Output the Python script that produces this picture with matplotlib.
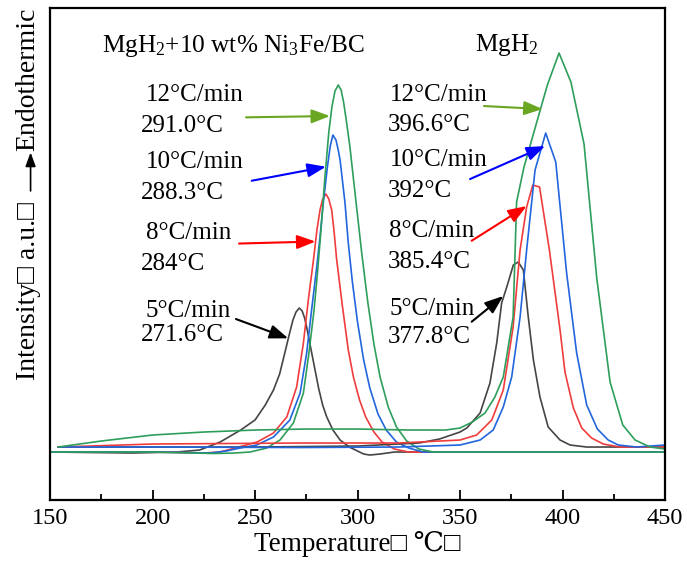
import matplotlib
matplotlib.use("Agg")
import matplotlib.pyplot as plt

plt.rcParams["font.family"] = ["Liberation Serif", "DejaVu Serif", "DejaVu Sans"]
plt.rcParams["mathtext.fontset"] = "custom"
plt.rcParams["mathtext.rm"] = "Liberation Serif"
plt.rcParams["mathtext.it"] = "Liberation Serif:italic"

# DSC curves, MgH2 + 10 wt% Ni3Fe/BC (left peaks), intensity in arbitrary units
comp_black_t = [150, 190, 212, 223, 233, 243, 250, 255, 259, 262, 265, 267, 268.5, 270, 271.6,
                273, 274.2, 275.5, 277, 279, 281, 283, 285, 288, 291.5, 296, 300, 303, 306,
                311, 318, 330, 450]
comp_black_y = [0, -1, 0, 2, 10, 22, 32, 47, 62, 78, 103, 120, 132, 140, 144,
                141, 134, 122, 106, 85, 64, 47, 35, 22, 12, 5, 1, -2, -3,
                -2, 0, 0, 0]

comp_red_t = [150, 200, 225, 233, 242, 251, 259, 265.5, 270.3, 273.6, 276, 278.5, 280.2, 281.7,
              283, 284.6, 286, 287.4, 288.6, 289.8, 292.5, 295.5, 298, 301, 304, 308, 312,
              318, 325, 450]
comp_red_y = [0, 0, -1, 0, 5, 10, 19, 35, 65, 109, 152, 192, 222, 242,
              253, 258, 253, 242, 220, 193, 148, 102, 75, 52, 35, 20, 10,
              3, 0, 0]

comp_blue_t = [150, 200, 228, 236, 242.7, 250.8, 259, 267, 272, 275.2, 277.6, 280.1, 281.7, 283.3,
               285.3, 286.7, 288, 289.5, 290.6, 291.5, 293.9, 295.5, 297.5, 300, 303, 306, 310,
               314, 319, 325, 332, 450]
comp_blue_y = [0, 0, -1, 1, 4, 7, 15, 32, 59, 99, 142, 185, 215, 249,
               285, 306, 317, 312, 302, 292, 249, 209, 170, 130, 92, 64, 38,
               22, 10, 4, 0, 0]

comp_green_t = [150, 200, 230, 240, 247.6, 255.7, 262.2, 268.7, 273.6, 276.3, 278.8, 280.5, 282.3,
                284.1, 286, 287.5, 289, 290.6, 292, 293.2, 294.5, 296.3, 299, 302, 305, 308,
                311, 315, 319, 324, 330, 337, 450]
comp_green_y = [0, 0, -1.5, -1, 0, 4, 12, 29, 59, 99, 142, 180, 225,
                275, 320, 345, 361, 367, 362, 350, 332, 305, 255, 200, 150, 108,
                75, 45, 25, 11, 3, 0, 0]

# DSC curves, pure MgH2 (right peaks)
mgh2_black_t = [154, 250, 300, 330, 340, 350, 353.3, 359.8, 364.6, 367.9, 370.3, 372.8, 376, 378.4,
                380.9, 383.3, 385.8, 389, 393, 398.8, 403.7, 411.8, 450]
mgh2_black_y = [5, 5, 6, 9, 13, 20, 24, 39, 69, 109, 149, 165, 187, 190,
                182, 135, 92, 55, 25, 12, 7, 5, 5]

mgh2_red_t = [154, 200, 272, 320, 350, 358.1, 365.5, 371.1, 375.9, 379.3, 382.5, 385.5, 388.8,
              393.6, 398.8, 401.2, 405.3, 409.4, 414.2, 419.9, 428, 450]
mgh2_red_y = [5, 8, 9, 9, 12, 17, 32, 62, 125, 202, 245, 267, 265,
              202, 122, 80, 44, 24, 14, 8, 5, 5]

mgh2_blue_t = [154, 200, 272, 320, 350, 359.8, 366.2, 371.1, 375.2, 379.3, 382.5, 386.6, 391.8,
               396.7, 402, 406.9, 411.8, 417, 422.3, 427.2, 436.2, 450]
mgh2_blue_y = [5, 5, 4.5, 5, 7, 12, 22, 45, 75, 135, 202, 282, 319,
               290, 179, 99, 47, 23, 12, 7, 5, 7]

mgh2_green_t = [154, 175, 200, 225, 250, 275, 300, 325, 343, 350, 356, 362.2, 367, 371.1, 375.9,
                377.6, 381.2, 392.6, 398.3, 404.1, 410.5, 416.7, 423.2, 429.4, 435.4, 442.7, 450]
mgh2_green_y = [5, 11, 17, 20, 22, 23, 23, 22, 22, 24, 30, 39, 55, 75, 135,
                250, 285, 367, 399, 370, 308, 174, 70, 27, 12, 5, 3]

rate_labels = ["12\u00b0C/min", "10\u00b0C/min", "8\u00b0C/min", "5\u00b0C/min"]
comp_peaks = ["291.0\u00b0C", "288.3\u00b0C", "284\u00b0C", "271.6\u00b0C"]
mgh2_peaks = ["396.6\u00b0C", "392\u00b0C", "385.4\u00b0C", "377.8\u00b0C"]

line_colors = ["#2e9e5b", "#2266dd", "#f03c3c", "#454545"]
arrow_colors = ["#6aa622", "#0000ff", "#ff0000", "#000000"]

fig = plt.figure(figsize=(6.87, 5.75), dpi=100)
ax = fig.add_axes([0.0728, 0.1304, 0.8952, 0.8556])

comp = [(comp_green_t, comp_green_y), (comp_blue_t, comp_blue_y),
        (comp_red_t, comp_red_y), (comp_black_t, comp_black_y)]
mgh2 = [(mgh2_green_t, mgh2_green_y), (mgh2_blue_t, mgh2_blue_y),
        (mgh2_red_t, mgh2_red_y), (mgh2_black_t, mgh2_black_y)]

for (t, y), c in zip(comp[::-1], line_colors[::-1]):
    ax.plot(t, y, color=c, lw=1.2, solid_joinstyle="round")
for (t, y), c in zip(mgh2[::-1], line_colors[::-1]):
    ax.plot(t, y, color=c, lw=1.2, solid_joinstyle="round")

ax.set_xlim(150, 450)
ax.set_ylim(-48, 444)
ax.set_xticks(range(150, 451, 50))
ax.set_xticks(range(175, 450, 50), minor=True)
ax.set_yticks([])
ax.tick_params(axis="x", which="major", direction="in", length=7, width=1.3,
               labelsize=17.5, pad=6, top=False)
ax.tick_params(axis="x", which="minor", direction="in", length=4, width=1.3, top=False)
for s in ax.spines.values():
    s.set_linewidth(1.6)

ax.set_xlabel("Temperature\u25a1 \u2103\u25a1", fontsize=19.5, labelpad=1)

# y label: Intensity (a.u.) -> Endothermic
fig.text(0.041, 0.340, "Intensity\u25a1 a.u.\u25a1", rotation=90, ha="center", va="bottom",
         fontsize=20)
fig.text(0.041, 0.737, "Endothermic", rotation=90, ha="center", va="bottom", fontsize=20)
ax.annotate("", xy=(0.0445, 0.735), xytext=(0.0445, 0.668), xycoords="figure fraction",
            textcoords="figure fraction",
            arrowprops=dict(arrowstyle="-|>,head_length=0.6,head_width=0.22",
                            color="black", lw=1.2, mutation_scale=14,
                            shrinkA=0, shrinkB=0))

# sample titles
ax.text(175.4, 406, "MgH$_2$+10 wt% Ni$_3$Fe/BC", fontsize=18.2, ha="left", va="center")
ax.text(357.3, 407, "MgH$_2$", fontsize=18.2, ha="left", va="center")

# rate / peak labels
comp_line_y = [(357, 326), (290, 259), (219, 188), (141, 117)]
mgh2_line_y = [(357, 327), (292, 261), (221, 190), (143, 115)]
for i in range(4):
    ax.text(196.8, comp_line_y[i][0], rate_labels[i], fontsize=18, ha="left", va="center")
    ax.text(194.5, comp_line_y[i][1], comp_peaks[i], fontsize=18, ha="left", va="center")
    ax.text(315.6, mgh2_line_y[i][0], rate_labels[i], fontsize=18, ha="left", va="center")
    ax.text(314.6, mgh2_line_y[i][1], mgh2_peaks[i], fontsize=18, ha="left", va="center")

comp_arrows = [((245.6, 334.7), (286.6, 336)), ((248.4, 271.3), (284.6, 285.3)),
               ((242.2, 208.5), (279.5, 210.5)), ((240.7, 133), (266.2, 113.7))]
mgh2_arrows = [((361.7, 346), (390.3, 343)), ((354.9, 273), (391.5, 306)),
               ((355.7, 211.3), (382.5, 246)), ((355.7, 130.3), (371.1, 156))]
for arrows in (comp_arrows, mgh2_arrows):
    for (start, tip), c in zip(arrows, arrow_colors):
        ax.annotate("", xy=tip, xytext=start,
                    arrowprops=dict(arrowstyle="-|>,head_length=0.8,head_width=0.3",
                                    color=c, lw=1.5, mutation_scale=14,
                                    shrinkA=0, shrinkB=0))

fig.savefig("out.png", dpi=100)
